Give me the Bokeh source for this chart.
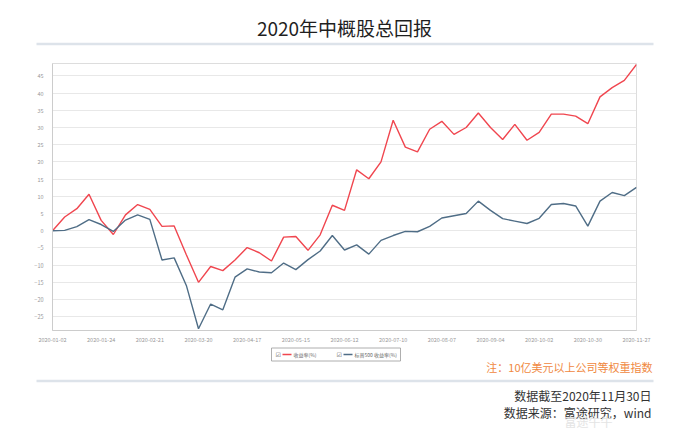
from bokeh.plotting import figure
from bokeh.models import Range1d, FixedTicker
from bokeh.layouts import column
from bokeh.core.properties import value
from bokeh.embed import file_html
from bokeh.resources import INLINE

title_text = "2020年中概股总回报"
series_names = ["收益率(%)", "标普500 收益率(%)"]
note_text = "注：10亿美元以上公司等权重指数"
source_lines = ["数据截至2020年11月30日", "数据来源：富途研究，wind"]
watermark = "富途牛牛"

dates = [
    "2020-01-02", "2020-01-03", "2020-01-10", "2020-01-17", "2020-01-24", "2020-01-31",
    "2020-02-07", "2020-02-14", "2020-02-21", "2020-02-28", "2020-03-06", "2020-03-13",
    "2020-03-20", "2020-03-27", "2020-04-03", "2020-04-10", "2020-04-17", "2020-04-24",
    "2020-05-01", "2020-05-08", "2020-05-15", "2020-05-22", "2020-05-29", "2020-06-05",
    "2020-06-12", "2020-06-19", "2020-06-26", "2020-07-03", "2020-07-10", "2020-07-17",
    "2020-07-24", "2020-07-31", "2020-08-07", "2020-08-14", "2020-08-21", "2020-08-28",
    "2020-09-04", "2020-09-11", "2020-09-18", "2020-09-25", "2020-10-02", "2020-10-09",
    "2020-10-16", "2020-10-23", "2020-10-30", "2020-11-06", "2020-11-13", "2020-11-20",
    "2020-11-27",
]
china_adr = [
    0, 4.0, 6.4, 10.6, 3.0, -1.1, 4.6, 7.6, 6.2, 1.25, 1.4, -7.0, -15.0, -10.4, -11.6,
    -8.5, -4.9, -6.4, -8.8, -1.85, -1.7, -5.7, -1.2, 7.4, 5.9, 17.7, 15.1, 20.0, 32.1,
    24.3, 22.9, 29.5, 31.8, 28.0, 30.0, 34.2, 30.0, 26.5, 30.9, 26.3, 28.6, 33.9, 33.9,
    33.3, 31.1, 38.9, 41.6, 43.7, 48.3,
]
sp500 = [
    0, 0.1, 1.2, 3.2, 1.8, -0.2, 3.1, 4.6, 3.3, -8.5, -7.9, -15.9, -28.5, -21.3, -23.0,
    -13.5, -11.1, -12.0, -12.2, -9.4, -11.3, -8.4, -5.9, -1.4, -5.6, -4.1, -6.8, -2.8,
    -1.4, -0.2, -0.3, 1.25, 3.7, 4.35, 5.0, 8.6, 5.9, 3.5, 2.8, 2.1, 3.6, 7.6, 7.9, 7.2,
    1.35, 8.6, 11.1, 10.2, 12.6,
]
y_ticks = [-25, -20, -15, -10, -5, 0, 5, 10, 15, 20, 25, 30, 35, 40, 45]
label_every = 4
colors = ["#f0464f", "#4f6d86"]

W = 680
TOTAL_H = 430
FONT = "Noto Sans CJK SC"


def blank(height):
    f = figure(width=W, height=height, output_backend="svg", toolbar_location=None,
               x_range=Range1d(0, W), y_range=Range1d(height, 0), min_border=0,
               x_axis_location=None, y_axis_location=None, frame_align=False)
    f.grid.visible = False
    f.outline_line_color = None
    f.background_fill_color = "white"
    f.border_fill_color = "white"
    return f


# ---------- title strip ----------
TH = 55
pt = blank(TH)
pt.text(x=[344], y=[27], text=[title_text], text_font=value(FONT),
        text_font_size="19px", text_color="#1f1f1f", text_align="center",
        text_baseline="middle")
pt.segment(x0=[36], y0=[43.5], x1=[653], y1=[43.5], line_color="#dde3ea", line_width=2.5)

# ---------- main chart ----------
MH = 291
x = list(range(len(dates)))
p = figure(width=W, height=MH, output_backend="svg", toolbar_location=None,
           x_range=Range1d(0, len(dates) - 1), y_range=Range1d(-29.0, 48.6),
           min_border_left=52, min_border_right=44, min_border_top=8, min_border_bottom=16,
           frame_align=False)
p.background_fill_color = "white"
p.border_fill_color = "white"
p.outline_line_color = "#dddddd"
p.line(x, china_adr, line_color=colors[0], line_width=1.4)
p.line(x, sp500, line_color=colors[1], line_width=1.4)

p.xgrid.visible = False
p.ygrid.grid_line_color = "#e8e8e8"
p.ygrid.ticker = FixedTicker(ticks=y_ticks)
p.yaxis.ticker = FixedTicker(ticks=y_ticks)
tick_idx = list(range(0, len(dates), label_every))
p.xaxis.ticker = FixedTicker(ticks=tick_idx)
p.xaxis.major_label_overrides = {i: dates[i] for i in tick_idx}
for ax in (p.xaxis[0], p.yaxis[0]):
    ax.axis_line_color = "#cccccc"
    ax.major_tick_line_color = None
    ax.minor_tick_line_color = None
    ax.major_label_text_color = "#999999"
    ax.major_label_text_font = FONT
    ax.major_label_text_font_size = "5.5px"
p.xaxis.major_label_standoff = 0
p.yaxis.major_label_standoff = 3

# ---------- footer ----------
FH = TOTAL_H - TH - MH
pf = blank(FH)

# legend box
pf.quad(left=[271], right=[400], top=[1.5], bottom=[14.5], fill_color="white",
        line_color="#9a9a9a", line_width=0.8)
leg_x = [275, 336]
for lx, name, c in zip(leg_x, series_names, colors):
    pf.text(x=[lx], y=[8], text=["☑"], text_font=value("DejaVu Sans"),
            text_font_size="6px", text_color="#555555", text_baseline="middle")
    pf.segment(x0=[lx + 7], y0=[8], x1=[lx + 16], y1=[8], line_color=c, line_width=1.4)
    pf.text(x=[lx + 18], y=[8], text=[name], text_font=value(FONT),
            text_font_size="5px", text_color="#666666", text_baseline="middle")

RX = 652
pf.text(x=[RX], y=[20], text=[note_text], text_font=value(FONT), text_font_size="11px",
        text_color="#f0883e", text_align="right", text_baseline="middle")
pf.segment(x0=[36], y0=[34.5], x1=[653], y1=[34.5], line_color="#dde3ea", line_width=2.5)
pf.text(x=[RX - 1, RX - 1], y=[49, 66], text=source_lines, text_font=value(FONT),
        text_font_size="12px", text_color="#333333", text_align="right",
        text_baseline="middle")
pf.text(x=[RX - 40], y=[75], text=[watermark], text_font=value(FONT),
        text_font_size="12px", text_color="#e4e4e4", text_align="right",
        text_baseline="middle")

layout = column(pt, p, pf, spacing=0)
open("out.html", "w").write(file_html(layout, INLINE))
